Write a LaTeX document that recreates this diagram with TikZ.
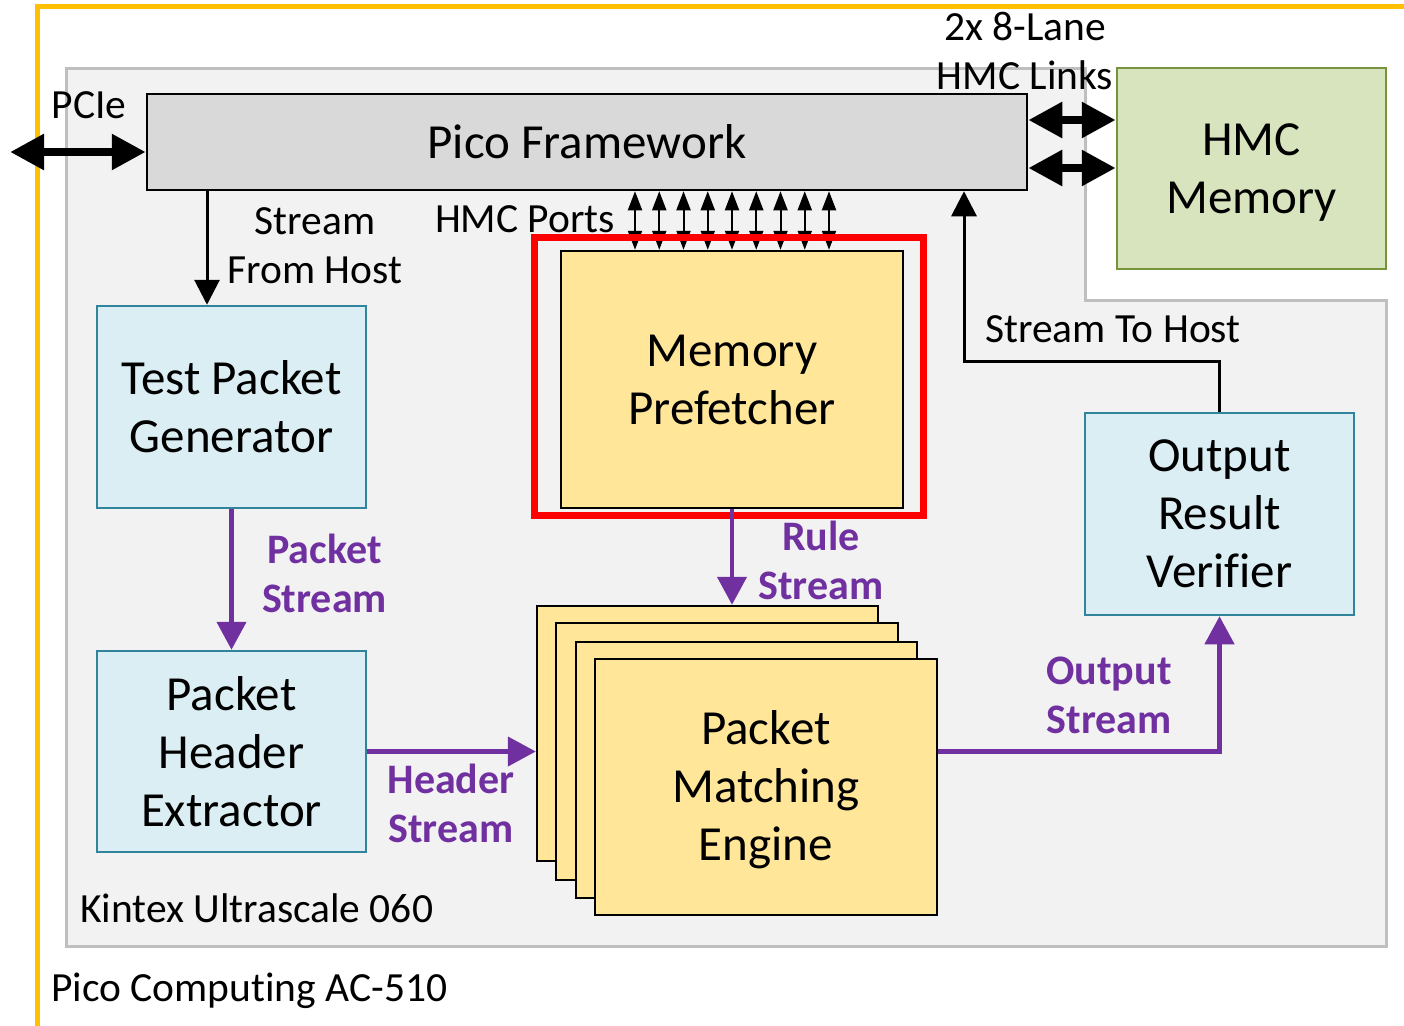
\documentclass[tikz,border=0pt]{standalone}
\usepackage{fontspec}
\setmainfont[Ligatures=NoCommon]{Carlito}
\usetikzlibrary{arrows.meta,calc}
\definecolor{boardyel}{HTML}{FFC000}
\definecolor{fpgafill}{HTML}{F2F2F2}
\definecolor{fpgaedge}{HTML}{BFBFBF}
\definecolor{picofill}{HTML}{D9D9D9}
\definecolor{hmcfill}{HTML}{D7E4BD}
\definecolor{hmcedge}{HTML}{77933C}
\definecolor{bluefill}{HTML}{DAEEF3}
\definecolor{blueedge}{HTML}{31849B}
\definecolor{yelfill}{HTML}{FFE699}
\definecolor{pmpurple}{HTML}{7030A0}
\begin{document}
\begin{tikzpicture}[x=1pt,y=-1pt,
  lgtxt/.style={font=\fontsize{49}{58}\selectfont, align=center},
  smtxt/.style={font=\fontsize{41.5}{49}\selectfont, align=center, inner sep=0pt},
  pltxt/.style={font=\fontsize{42}{49}\selectfont\bfseries, text=pmpurple, align=center, inner sep=0pt},
  blkbox/.style={draw=black, line width=2.5pt, inner sep=0pt, lgtxt},
  bluebox/.style={draw=blueedge, fill=bluefill, line width=2.5pt, inner sep=0pt, lgtxt},
  yelbox/.style={draw=black, fill=yelfill, line width=2.5pt, inner sep=0pt, lgtxt},
  bigdbl/.style={line width=8.5pt, {Triangle[length=34pt,width=34pt]}-{Triangle[length=34pt,width=34pt]}},
  blkarr/.style={line width=3pt, -{Triangle[length=25pt,width=25pt]}},
  portarr/.style={line width=2pt, {Triangle[length=19pt,width=14pt]}-{Triangle[length=19pt,width=14pt]}},
  purarr/.style={draw=pmpurple, line width=4.5pt, -{Triangle[length=28pt,width=29pt]}, color=pmpurple}
]
\useasboundingbox (0,0) rectangle (1404,1025);
% board outline
\draw[boardyel, line width=5pt] (37,1030) -- (37,7) -- (1410,7);
% FPGA region
\draw[fill=fpgafill, draw=fpgaedge, line width=3pt]
  (66,68) -- (1085,68) -- (1085,300) -- (1386,300) -- (1386,946) -- (66,946) -- cycle;

% nodes
\node[blkbox, fill=picofill, minimum width=880pt, minimum height=96pt] (pico) at (587,142) {Pico Framework};
\node[draw=hmcedge, fill=hmcfill, line width=2.5pt, inner sep=0pt, minimum width=269pt, minimum height=201pt] (hmc) at (1251.5,168.5) {};
\node[lgtxt, inner sep=0pt] (hmctxt) at (1251.5,173) {HMC\\Memory};
\node[bluebox, minimum width=269pt, minimum height=202pt] (tpg) at (231.5,407) {Test Packet\\Generator};
\node[bluebox, minimum width=269pt, minimum height=201pt] (phe) at (231.5,751.5) {Packet\\Header\\Extractor};
\node[bluebox, minimum width=269pt, minimum height=202pt] (orv) at (1219.5,514) {Output\\Result\\Verifier};
\node[yelbox, minimum width=342pt, minimum height=257pt] (mp) at (732,379.5) {Memory\\Prefetcher};

% HMC ports arrows
\foreach \x in {635,659.25,683.5,707.75,732,756.25,780.5,804.75,829}
  \draw[portarr] (pico.south -| \x,0) -- (mp.north -| \x,0);

% highlight
\node[draw=red, line width=7pt, minimum width=389.5pt, minimum height=278pt, inner sep=0pt] (hl) at (728.75,376.5) {};

% PME stack
\node[yelbox, minimum width=341pt, minimum height=255pt] (pme1) at (707.5,733.5) {};
\node[yelbox, minimum width=342pt, minimum height=257pt] (pme2) at (727,751.5) {};
\node[yelbox, minimum width=341pt, minimum height=256pt] (pme3) at (746.5,770) {};
\node[yelbox, minimum width=342pt, minimum height=256pt] (pme4) at (766,787) {};
\node[lgtxt, inner sep=0pt] (pmetxt) at (766,790) {Packet\\Matching\\Engine};

% PCIe
\coordinate (pcieend) at (10,152);
\draw[bigdbl] (pcieend) -- (pico.west |- pcieend);
\node[smtxt] (pcielbl) at (89,105) {PCIe};

% HMC links
\coordinate (lk1) at (1070,120);
\coordinate (lk2) at (1070,168);
\draw[bigdbl] (pico.east |- lk1) -- (hmc.west |- lk1);
\draw[bigdbl] (pico.east |- lk2) -- (hmc.west |- lk2);
\node[smtxt] (lklbl) at (1025,51) {2x 8-Lane\\HMC Links};

% stream from host
\draw[blkarr] (pico.south -| 207,0) -- (tpg.north -| 207,0);
\node[smtxt] (sfhlbl) at (315,246) {Stream\\From Host};

% HMC ports label
\node[smtxt] (hplbl) at (525,219) {HMC Ports};

% stream to host
\coordinate (sthc) at (964,361);
\draw[blkarr] (orv.north) |- (sthc) -- (pico.south -| sthc);
\node[smtxt] (sthlbl) at (1113,329) {Stream To Host};

% purple streams
\draw[purarr] (tpg.south) -- (phe.north);
\node[pltxt] (pslbl) at (324.5,573) {Packet\\Stream};
\draw[purarr] (mp.south) -- (pme1.north -| mp.south);
\node[pltxt] (rslbl) at (821,560) {Rule\\Stream};
\draw[purarr] (phe.east) -- (pme1.west |- phe.east);
\node[pltxt] (hslbl) at (451,803) {Header\\Stream};
\draw[purarr] (pme4.east |- phe.east) -| (orv.south);
\node[pltxt] (oslbl) at (1109,695) {Output\\Stream};

% region labels
\node[smtxt, anchor=west] (kulbl) at (80,908) {Kintex Ultrascale 060};
\node[smtxt, anchor=west] (pclbl) at (51,991) {Pico Computing AC-510};
\end{tikzpicture}
\end{document}
